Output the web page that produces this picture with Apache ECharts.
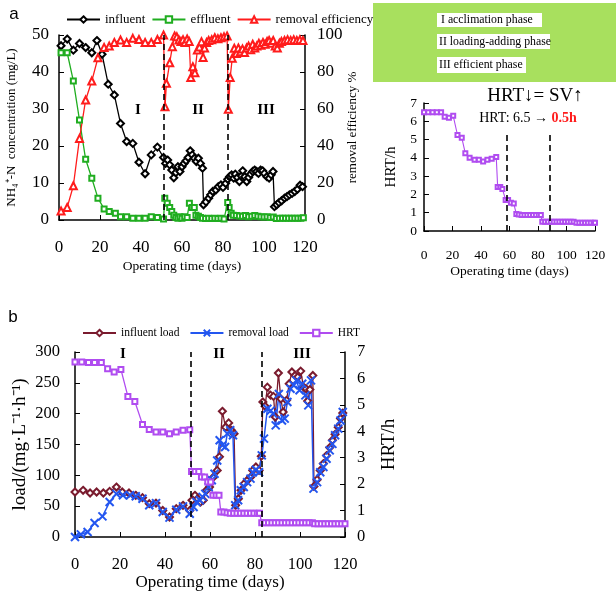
<!DOCTYPE html>
<html>
<head>
<meta charset="utf-8">
<script src="https://cdn.jsdelivr.net/npm/echarts@6/dist/echarts.min.js"></script>
<style>
  html, body { margin: 0; padding: 0; background: #fff; }
  #chart { width: 616px; height: 598px; }
</style>
</head>
<body>
<div id="chart"></div>
<script>
'use strict';
// 图 a：NH4+-N 进出水浓度与去除率；右上：HRT；图 b：负荷与 HRT

const dayTicks = [0, 20, 40, 60, 80, 100, 120];
const phaseNames = ['I', 'II', 'III'];
const phaseNotes = ['I acclimation phase', 'II loading-adding phase', 'III efficient phase'];

// ---------- 图 a 数据 [天, 值] ----------
const influent = [[1,47.1],[4,48.9],[7,45.9],[10,47.7],[13,46.6],[16,45.2],[18.5,48.5],[21,44.8],[24,36.7],[27,33.8],[30,26.1],[33,21.2],[36,20.7],[39,15.6],[42,12.5],[45,17.6],[48,19.7],[51,16.9],[52,15.3],[53,16.2],[54,14.9],[55,13.5],[56,11.4],[57,12.8],[58,14.4],[59,13.1],[60,14.4],[61,15.3],[62,16],[63,16.9],[64,18.7],[65,17.6],[66,16.7],[67,15.8],[68,16.7],[69,15.3],[70,14],[70.5,4.1],[71.7,4.9],[73,5.9],[74,6.8],[75,7.7],[76.5,8.1],[77.7,9],[79,9.5],[80,8.8],[81.3,9.9],[82.3,11],[83.2,11.7],[84.2,12.2],[85.2,11.3],[86,12.4],[87,11.5],[88,10.4],[89,11.9],[89.6,13.3],[90.6,11.7],[91.6,10.4],[92.5,11.5],[93.5,12.4],[94.5,13.1],[95.4,13.5],[96.4,13.1],[97.3,12.6],[98.3,13.5],[99.3,13.3],[100.2,12.6],[101.4,11.7],[102.5,11.3],[103.5,12.2],[104.4,13.1],[105.1,3.6],[106.2,4.1],[107.3,4.7],[108.6,5.2],[110,5.9],[111.2,6.3],[112.4,6.8],[113.7,7.2],[115,7.7],[116.3,8.3],[117.6,9.4],[118.8,9.0]];
const effluent = [[1,45.2],[4,45.2],[7,37.6],[10,27],[13,16.4],[16,11.3],[19,5.9],[22,3],[24.5,2.3],[27.5,1.8],[30,0.9],[33,0.9],[36,0.5],[39,0.5],[42,0.5],[45,0.9],[48,0.7],[51,0.3],[51.6,5.9],[52.8,4.5],[54,3.4],[55,2.3],[56,1.3],[57,0.7],[58,0.5],[59,0.9],[60,0.5],[61.3,0.9],[62.5,0.7],[63.6,4.5],[65,3.4],[66,3.4],[66.8,1.3],[68,1],[69,0.7],[70,0.5],[71.5,0.4],[73,0.5],[74.5,0.4],[76,0.5],[77.5,0.4],[79,0.5],[80.5,0.3],[82.3,4.7],[83,3.4],[84,1.8],[85,1.3],[86.5,1.2],[88,1.1],[89.5,1],[91,1.2],[92.5,0.9],[94,1],[95.5,1.2],[97,1],[98.5,0.9],[100,0.8],[101.5,0.9],[103,0.7],[104.5,0.8],[106,0.4],[107.5,0.5],[109,0.5],[110.5,0.5],[112,0.5],[113.5,0.5],[115,0.5],[116.5,0.5],[118,0.5],[119.2,0.6]];
const removalEff = [[1,4.9],[4,6.8],[7,18.5],[10,44.1],[13,64.9],[16,75.1],[19,87.7],[22,93.3],[24.5,94],[27,96],[30,97.3],[33,96],[36,98.2],[39,97.6],[42,96],[45,96],[48,97.6],[51,100],[51.7,61.2],[52.4,73.9],[54,85],[55.3,93.7],[56.4,99.5],[57.5,99],[58.5,97.3],[59.5,96.5],[60.5,97.5],[61.5,96],[62.5,97.8],[63.5,96.5],[64.3,77],[65.3,82.9],[66.3,79.6],[67.5,91.9],[68.5,93.5],[69.5,96.4],[70.3,87.9],[71,93],[72,96],[73,97],[74.5,97.5],[76,98.5],[77.5,98],[79,98.5],[80.5,99],[82,99.5],[82.6,59.8],[83.5,77],[84.5,87.4],[85.5,92.8],[86.5,90],[87.5,93],[88.5,91],[89.5,92.5],[90.5,90.5],[91.5,93],[92.5,94],[93.5,92],[94.5,95],[95.5,93],[96.5,94],[97.5,95.5],[98.5,94.5],[99.5,96],[100.5,95],[101.5,96.5],[102.5,97],[103.5,95.5],[104.5,97],[105.5,94],[106.5,93],[107.5,95.5],[108.5,96.5],[110,97],[111.5,97.5],[113,97],[114.5,97.5],[116,97],[117.5,97.5],[119,97]];
const phaseDaysA = [51, 82.5];

// ---------- 右上 HRT ----------
const hrtSmall = [[0,6.5],[3,6.5],[6,6.5],[9,6.5],[12,6.5],[14.5,6.25],[17.5,6.2],[20.5,6.3],[23.5,5.25],[26.5,5.1],[29,4.25],[32,4.0],[35.5,3.9],[38.5,3.9],[41.5,3.8],[44.5,3.9],[47.5,3.95],[50.7,4.05],[51.7,2.4],[53.5,2.4],[55,2.3],[57.3,1.7],[59,1.7],[61,1.55],[63,1.5],[64.8,0.93],[66.5,0.9],[68.5,0.88],[70.5,0.88],[72.5,0.88],[74.5,0.88],[76.5,0.88],[78.5,0.88],[80.5,0.88],[82,0.88],[83,0.5],[85,0.5],[87,0.5],[89,0.5],[91,0.5],[93,0.5],[95,0.5],[97,0.5],[99,0.5],[101,0.5],[103,0.5],[105,0.5],[107,0.45],[109,0.45],[111,0.45],[113,0.45],[115,0.45],[117,0.45],[119,0.45],[120,0.45]];
const phaseDaysSmall = [58, 88.5];
const phaseTopSmall = 5.35;

// ---------- 图 b 数据 ----------
const influentLoad = [[0,73],[3.6,75.7],[6.7,71.4],[9.6,73],[12.6,71.4],[15.4,74],[18.4,81],[21,73],[24,71.4],[27,67.6],[30,63.8],[33,54],[36,55],[39,43],[42,32.4],[45,46],[48,51.4],[51,43],[52,59.5],[53.3,67.6],[54.5,62],[55.8,56.8],[57,59.5],[58.4,75.7],[59.8,81],[61.5,97],[63.2,108],[64.2,130],[65.5,203.8],[66.9,178],[68.3,185],[69.5,173],[70.7,167.6],[71.4,51.4],[72.6,62],[73.8,75.7],[75.2,86.5],[76.6,92],[78,97],[79,108],[80.4,113.5],[81.8,108],[82.8,131],[83.5,219],[84.5,212],[85.5,243],[86.9,230],[88.2,228],[89,194.6],[90.4,266],[91.5,224],[92.5,202.7],[94,221.6],[95.2,248.6],[96.4,267.6],[97.8,262],[99,259.5],[100.3,269],[101.6,243],[102.7,240.5],[103.4,220.5],[104.4,239],[105.7,262],[106.2,82],[107.6,93],[109,108],[110.4,119],[111.8,132],[113.2,145],[114.4,157],[115.6,166.5],[117,178],[118,192],[119,201]];
const removalLoad = [[0,0],[2.6,4.3],[5.6,8],[8.7,22.7],[12.2,33.5],[15.4,56.8],[18.4,70],[21.3,67.6],[24.5,67.6],[27,66],[30,62],[33,51.4],[36,55],[39,40.5],[42,31.4],[45,44.3],[48,49.7],[51,37.8],[52.7,48.6],[54,56.8],[55.5,59.5],[56.7,65],[57.9,70],[59.4,81],[60.8,92],[62,102.7],[63.2,124],[64.3,157],[65.5,148.6],[66.7,146],[67.7,167.6],[69,173],[70.2,165],[71.2,51.4],[72.5,59.5],[73.7,75.7],[75,81],[76.5,89],[78,94.6],[79,105],[80.4,109],[81.8,105],[83,132.4],[84,159.5],[85.5,208],[87,205],[88,200],[89.2,181],[90.6,232],[92,189],[93.2,192],[94.4,219],[95.8,240.5],[97.2,246],[98.4,254],[99.8,238],[101,248.6],[102.4,229.7],[103.7,213.5],[104.9,254],[106,78.4],[107.6,89],[109,105],[110.4,113.5],[111.8,127],[113.2,140.5],[114.4,151],[115.6,165],[117,175.7],[118,189],[119,202.7]];
const hrtLoad = [[0,6.62],[3,6.62],[6,6.6],[8.7,6.6],[11.7,6.6],[14.5,6.37],[17.4,6.24],[20.4,6.34],[23.5,5.32],[26.6,5.13],[30,4.26],[33,4.07],[36,3.97],[39,3.97],[42,3.91],[45,3.97],[48,4.04],[51,4.06],[51.8,2.48],[53.4,2.48],[55,2.48],[56.2,2.27],[57.6,2.27],[59,2.08],[60.3,2.08],[61.3,1.58],[62.7,1.58],[64,1.58],[64.8,0.95],[66.2,0.95],[67.6,0.92],[69,0.9],[70.5,0.9],[72,0.9],[73.5,0.9],[75,0.9],[76.5,0.9],[78,0.9],[79.5,0.9],[81,0.9],[82,0.9],[83,0.54],[84.5,0.54],[86,0.54],[87.5,0.54],[89,0.54],[90.5,0.54],[92,0.54],[93.5,0.54],[95,0.54],[96.5,0.54],[98,0.54],[99.5,0.54],[101,0.54],[102.5,0.54],[104,0.54],[105.5,0.54],[106.5,0.5],[108,0.5],[109.5,0.5],[111,0.5],[112.5,0.5],[114,0.5],[115.5,0.5],[117,0.5],[118.5,0.5],[120,0.5]];
const phaseDaysB = [51.6, 83];

// ---------- 样式 ----------
const SERIF = '"Liberation Serif", "Times New Roman", serif';
const SANS = '"Liberation Sans", Arial, sans-serif';
const C = { infl: '#000000', effl: '#20ad20', eff: '#ff1c1c', hrt: '#b04cf0', inLoad: '#7a1b2e', rmLoad: '#2356f0' };
const X_SYMBOL = 'emptypath://M0,0L10,10M10,0L0,10';

function xAxisOf(grid, labelSize, nameSize, labelMargin, nameGap) {
  return {
    gridIndex: grid, type: 'value', min: 0, max: 120, interval: 20,
    axisLine: { lineStyle: { color: '#000', width: 1.5 } },
    axisTick: { inside: true, length: 5, lineStyle: { color: '#000' } },
    axisLabel: { color: '#000', fontFamily: SERIF, fontSize: labelSize, margin: labelMargin, customValues: dayTicks },
    splitLine: { show: false },
    name: 'Operating time (days)', nameLocation: 'middle', nameGap: nameGap,
    nameTextStyle: { color: '#000', fontFamily: SERIF, fontSize: nameSize }
  };
}
function yAxisOf(grid, pos, max, interval, labelSize, labelMargin, name, nameSize, nameGap) {
  return {
    gridIndex: grid, type: 'value', position: pos, min: 0, max: max, interval: interval,
    axisLine: { show: true, lineStyle: { color: '#000', width: 1.5 } },
    axisTick: { show: true, inside: true, length: 5, lineStyle: { color: '#000' } },
    axisLabel: { color: '#000', fontFamily: SERIF, fontSize: labelSize, margin: labelMargin },
    splitLine: { show: false },
    name: name, nameLocation: 'middle', nameGap: nameGap,
    nameTextStyle: { color: '#000', fontFamily: SERIF, fontSize: nameSize }
  };
}
function dashLines(days, top) {
  const data = days.map((d) => (top == null ? { xAxis: d } : [{ coord: [d, 0] }, { coord: [d, top] }]));
  return { silent: true, symbol: 'none', label: { show: false }, lineStyle: { color: '#000', type: [6, 4], width: 1.6 }, data: data };
}
function lineSeries(name, xi, yi, data, color, symbol, size, extra) {
  return Object.assign({
    name: name, type: 'line', xAxisIndex: xi, yAxisIndex: yi, data: data,
    symbol: symbol, symbolSize: size, showSymbol: true,
    lineStyle: { color: color, width: 1.3 }, itemStyle: { color: color, borderColor: color, borderWidth: 1.2 },
    animation: false
  }, extra || {});
}
function txt(x, y, text, size, extra) {
  return { type: 'text', x: x, y: y, style: Object.assign({ text: text, fontFamily: SERIF, fontSize: size, fill: '#000', align: 'center', verticalAlign: 'middle' }, extra || {}) };
}

const chart = echarts.init(document.getElementById('chart'), null, { renderer: 'canvas' });

const graphics = [
  txt(14, 14, 'a', 17, { fontFamily: SANS }),
  txt(13, 317, 'b', 17, { fontFamily: SANS }),
  { type: 'rect', shape: { x: 373, y: 3, width: 243, height: 79 }, style: { fill: '#a8e05e' } },
  { type: 'rect', shape: { x: 437, y: 13, width: 105, height: 14 }, style: { fill: '#fff' } },
  { type: 'rect', shape: { x: 437, y: 34, width: 113, height: 15 }, style: { fill: '#fff' } },
  { type: 'rect', shape: { x: 437, y: 57, width: 89, height: 16 }, style: { fill: '#fff' } },
  txt(441, 20, phaseNotes[0], 11.8, { align: 'left' }),
  txt(439, 41.5, phaseNotes[1], 11.8, { align: 'left' }),
  txt(439, 65, phaseNotes[2], 11.8, { align: 'left' }),
  txt(535, 96, 'HRT↓= SV↑', 19),
  {
    type: 'text', x: 528, y: 118,
    style: {
      text: '{n|HRT: 6.5 → }{r|0.5h}', align: 'center', verticalAlign: 'middle',
      rich: { n: { fontFamily: SERIF, fontSize: 14, fill: '#000' }, r: { fontFamily: SERIF, fontSize: 14, fontWeight: 'bold', fill: '#ff1c1c' } }
    }
  },
  txt(138, 110, phaseNames[0], 15, { fontWeight: 'bold' }),
  txt(198, 110, phaseNames[1], 15, { fontWeight: 'bold' }),
  txt(266, 110, phaseNames[2], 15, { fontWeight: 'bold' }),
  txt(123, 354, phaseNames[0], 15, { fontWeight: 'bold' }),
  txt(219, 354, phaseNames[1], 15, { fontWeight: 'bold' }),
  txt(302, 354, phaseNames[2], 15, { fontWeight: 'bold' })
];

chart.setOption({
  backgroundColor: '#fff',
  animation: false,
  grid: [
    { left: 59, top: 35, width: 246, height: 185 },
    { left: 424, top: 103, width: 171, height: 128 },
    { left: 75, top: 352, width: 270, height: 185 }
  ],
  legend: [
    {
      data: ['influent', 'effluent', 'removal efficiency'], left: 61, top: 8,
      itemWidth: 33, itemHeight: 8, itemGap: 6, selectedMode: false,
      textStyle: { fontFamily: SERIF, fontSize: 13, color: '#000' }
    },
    {
      data: ['influent load', 'removal load', 'HRT'], left: 77, top: 322,
      itemWidth: 33, itemHeight: 8, itemGap: 10, selectedMode: false,
      textStyle: { fontFamily: SERIF, fontSize: 11.5, color: '#000' }
    }
  ],
  xAxis: [
    xAxisOf(0, 17, 13.5, 19, 39),
    xAxisOf(1, 13.5, 13.5, 17, 33),
    xAxisOf(2, 16.5, 17, 19, 37)
  ],
  yAxis: [
    yAxisOf(0, 'left', 50, 10, 17, 10, 'NH₄⁺-N  concentration (mg/L)', 13, 41),
    yAxisOf(0, 'right', 100, 20, 17, 12, 'removal efficiency %', 13, 41),
    yAxisOf(1, 'left', 7, 1, 13.5, 7, 'HRT/h', 15, 25),
    yAxisOf(2, 'left', 300, 50, 16.5, 15, 'load/(mg·L⁻¹·h⁻¹)', 19, 45),
    yAxisOf(2, 'right', 7, 1, 16.5, 12, 'HRT/h', 19, 35)
  ],
  series: [
    lineSeries('influent', 0, 0, influent, C.infl, 'emptyDiamond', 7, { markLine: dashLines(phaseDaysA) }),
    lineSeries('effluent', 0, 0, effluent, C.effl, 'emptyRect', 5),
    lineSeries('removal efficiency', 0, 1, removalEff, C.eff, 'emptyTriangle', 7),
    lineSeries('HRT-small', 1, 2, hrtSmall, C.hrt, 'emptyRect', 4, { lineStyle: { color: C.hrt, width: 1.1 }, markLine: dashLines(phaseDaysSmall, phaseTopSmall) }),
    lineSeries('influent load', 2, 3, influentLoad, C.inLoad, 'emptyDiamond', 7, { markLine: dashLines(phaseDaysB) }),
    lineSeries('removal load', 2, 3, removalLoad, C.rmLoad, X_SYMBOL, 8, { lineStyle: { color: C.rmLoad, width: 1.5 }, itemStyle: { color: C.rmLoad, borderColor: C.rmLoad, borderWidth: 1.5 } }),
    lineSeries('HRT', 2, 4, hrtLoad, C.hrt, 'emptyRect', 5)
  ],
  graphic: graphics
});
</script>
</body>
</html>
